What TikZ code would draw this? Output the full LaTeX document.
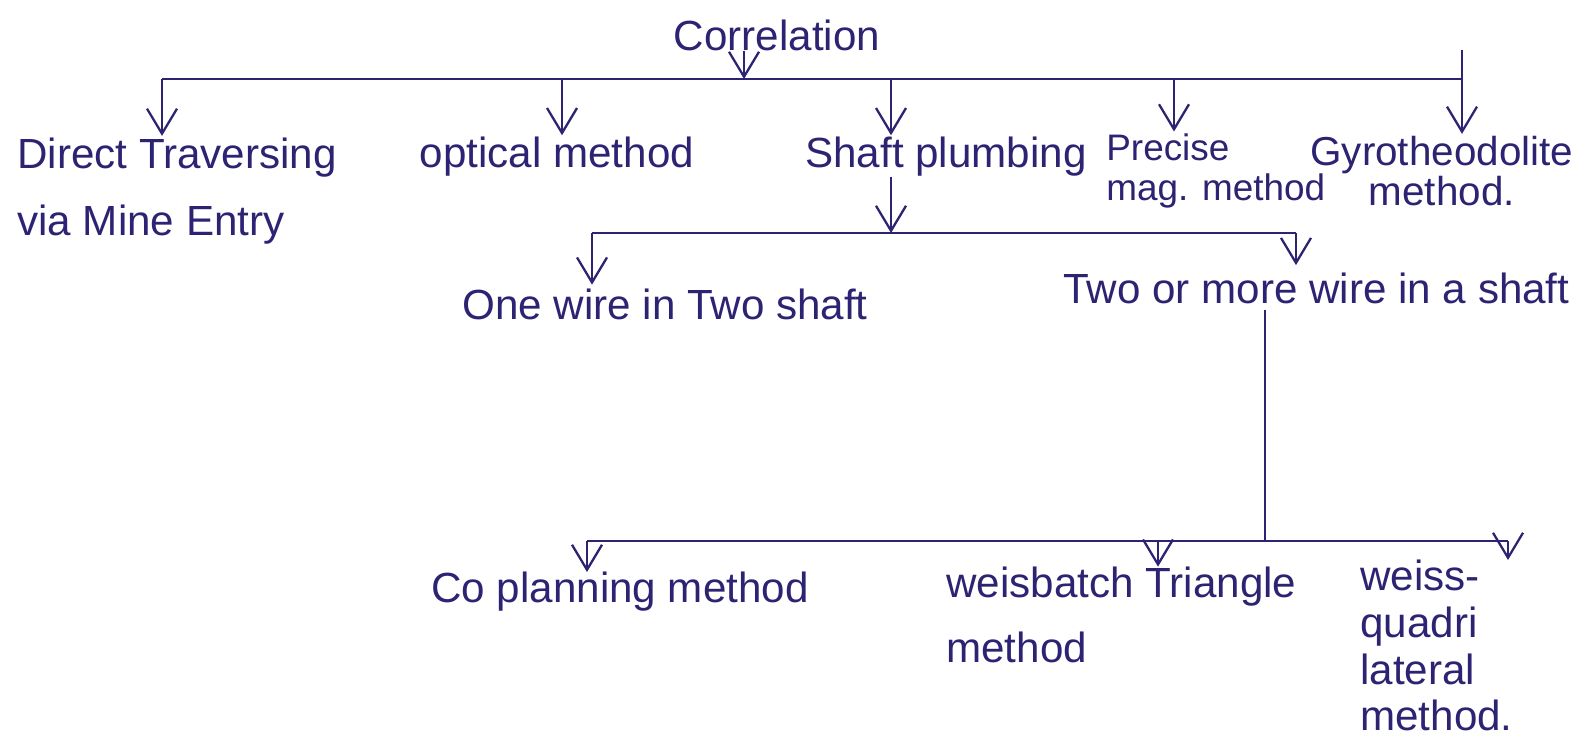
\documentclass[tikz,border=0pt]{standalone}
\usepackage{fontspec}
\setmainfont{Liberation Sans}
\usetikzlibrary{arrows.meta}
\definecolor{ink}{RGB}{45,35,115}
\begin{document}
\begin{tikzpicture}[x=0.02cm,y=-0.02cm,
  lbl/.style={text=ink,font=\fontsize{24}{38}\selectfont,inner sep=0pt},
  link/.style={draw=ink,line width=1.3pt},
  arr/.style={link,-{Straight Barb[length=5mm,width=6mm,line width=1.3pt]}}]
\useasboundingbox[fill=white] (0,0) rectangle (1587,745);

% root
\node[lbl] (corr) at (777,35) {Correlation};

% first bar
\coordinate (b1l) at (162,79);
\coordinate (b1r) at (1462,79);
\coordinate (b1c) at (744,79);
\coordinate (b1b) at (562,79);
\coordinate (b1d) at (891,79);
\coordinate (b1e) at (1174,79);
\coordinate (b1top) at (1462,50);
\draw[link] (b1l) -- (b1r);
\draw[arr] (corr.south -| b1c) -- (b1c);

% level 1
\node[lbl,align=left,anchor=west] (dt) at (17,191) {Direct Traversing\\via Mine Entry};
\node[lbl] (om) at (557,157) {optical method};
\node[lbl] (sp) at (946,157) {Shaft plumbing};
\node[lbl,align=left,anchor=west,font=\fontsize{21}{23}\selectfont] (pm) at (1106,171) {Precise\\ mag. method};
\node[lbl,align=center,anchor=west,font=\fontsize{23}{23}\selectfont] (gm) at (1310,171) {Gyrotheodolite\\method.};

\draw[arr,shorten >=1pt] (b1l) -- (b1l |- dt.north);
\draw[arr,shorten >=1pt] (b1b) -- (b1b |- om.north);
\draw[arr,shorten >=1pt] (b1d) -- (b1d |- sp.north);
\draw[arr,shorten >=1pt] (b1e) -- (b1e |- pm.north);
\draw[arr,shorten >=1pt] (b1top) -- (b1top |- gm.north);

% second bar
\coordinate (b2l) at (592,233);
\coordinate (b2c) at (891,233);
\coordinate (b2r) at (1296,233);
\draw[link] (b2l) -- (b2r);
\draw[arr] (sp.south -| b2c) -- (b2c);

% level 2
\node[lbl] (ow) at (665,304) {One wire in Two shaft};
\node[lbl,anchor=west] (tw) at (1063,288) {Two or more wire in a shaft};
\draw[arr,shorten >=2pt] (b2l) -- (b2l |- ow.north);
\draw[arr,shorten >=4pt] (b2r) -- (b2r |- tw.north);

% third bar
\coordinate (b3l) at (587,541);
\coordinate (b3v) at (1265,541);
\coordinate (b3c) at (1158,541);
\coordinate (b3r) at (1508,541);
\draw[link] (b3l) -- (b3r);
\draw[link] (tw.south -| b3v) ++(0,6) -- (b3v);

% level 3
\node[lbl] (cp) at (620,592) {Co planning method};
\node[lbl,align=left,anchor=west,font=\fontsize{24}{37}\selectfont] (wt) at (946,615) {weisbatch Triangle\\method};
\node[lbl,align=left,anchor=north west,font=\fontsize{24}{26.5}\selectfont] (wq) at (1360,560) {weiss-\\quadri\\lateral\\method.};
\draw[arr,shorten >=0pt] (b3l) -- (b3l |- cp.north);
\draw[arr,shorten >=0pt] (b3c) -- (b3c |- wt.north);
\draw[arr,shorten >=0pt] (b3r) -- (b3r |- wq.north);
\end{tikzpicture}
\end{document}
